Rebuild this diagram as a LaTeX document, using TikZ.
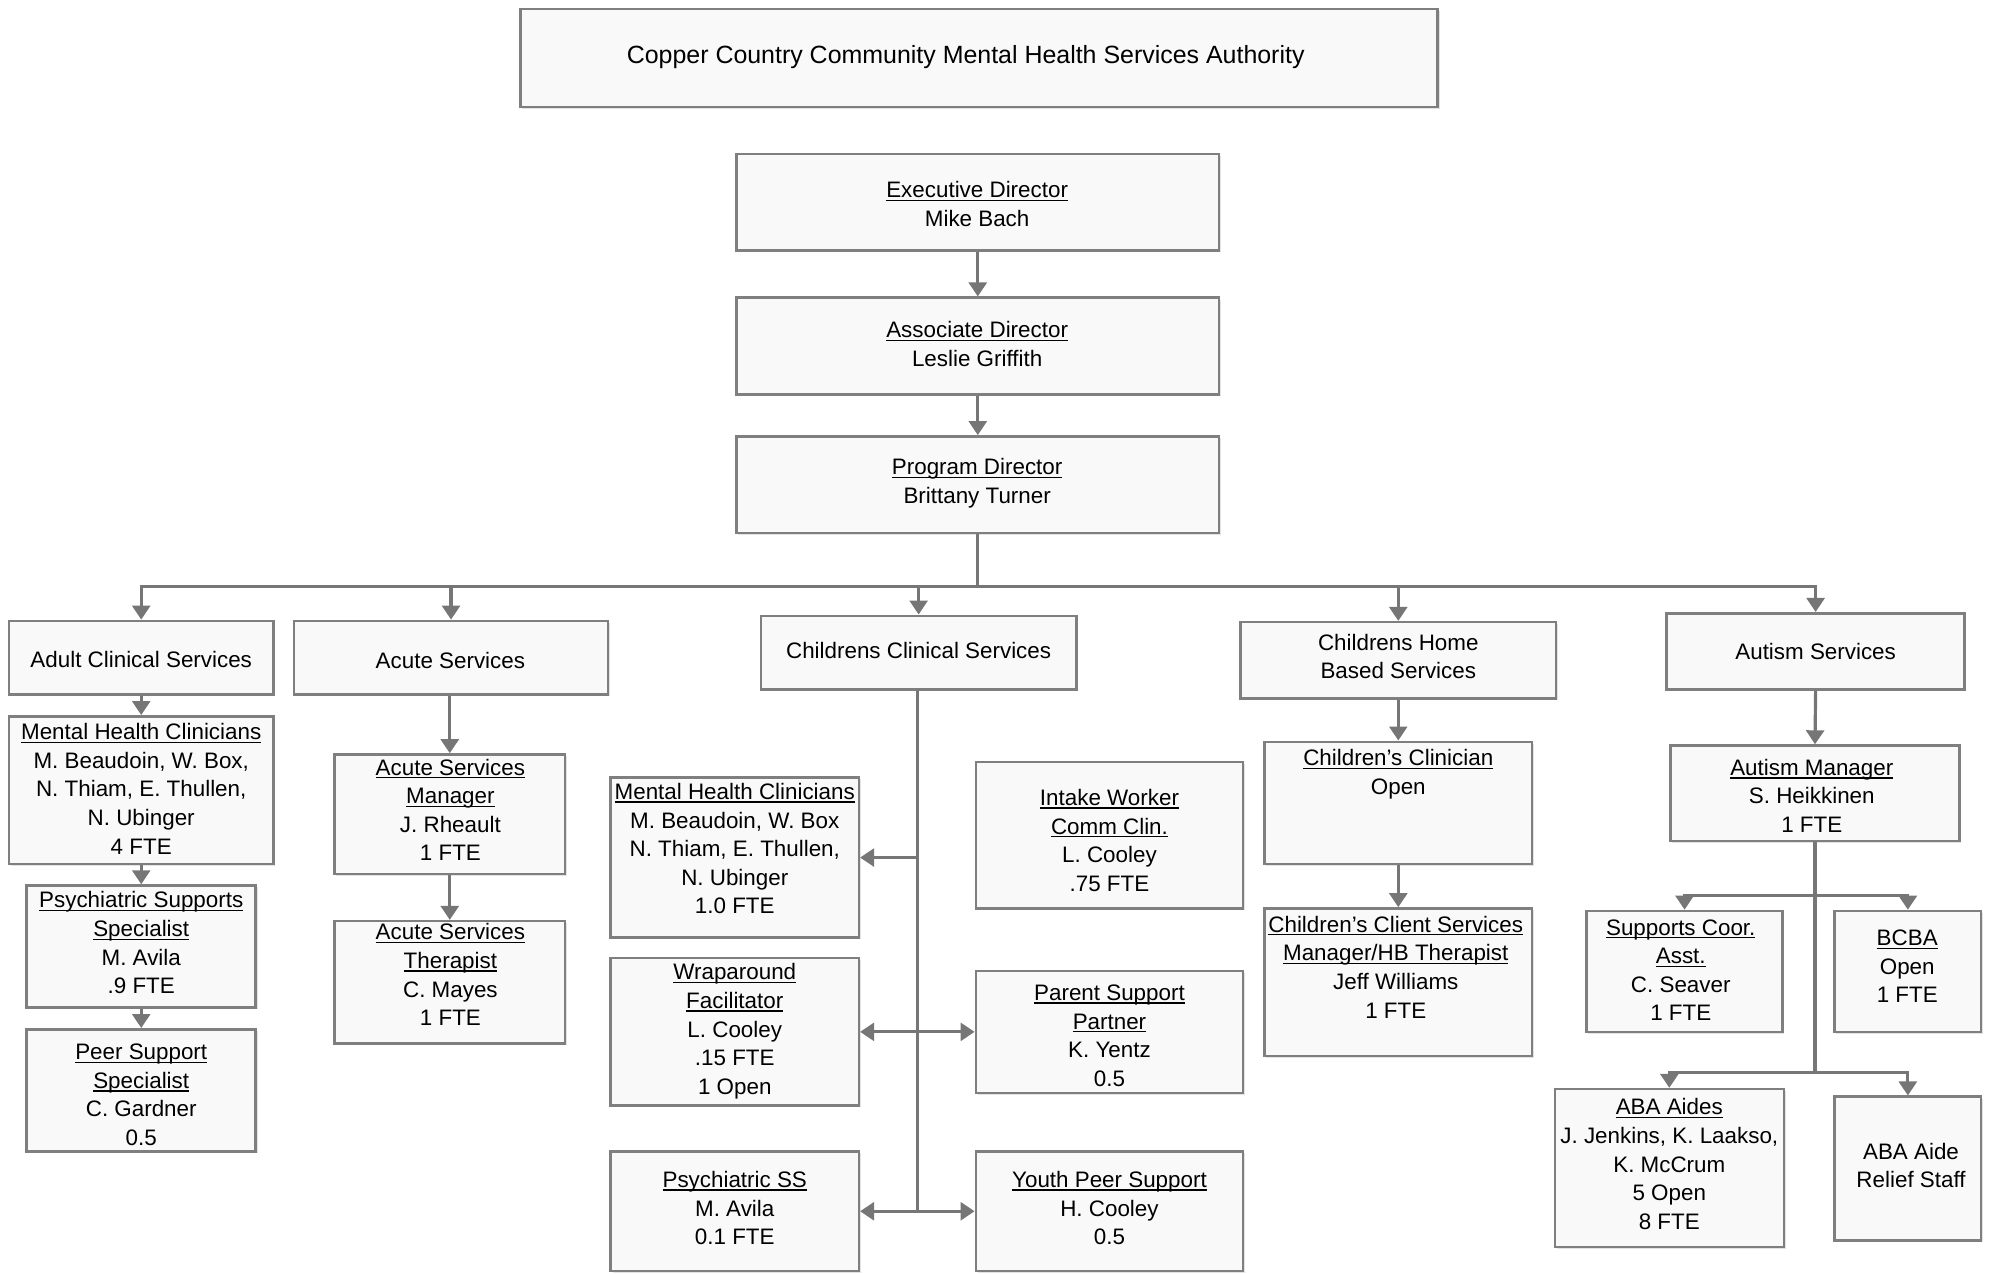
\documentclass[tikz,border=0pt]{standalone}
\usepackage{fontspec}
\setmainfont{Liberation Sans}
\usetikzlibrary{arrows.meta,fit,shadows}
\definecolor{boxline}{HTML}{7F7F7F}
\definecolor{boxfill}{HTML}{F9F9F9}
\definecolor{conn}{HTML}{767676}
\newcommand{\ul}[1]{\setbox0\hbox{#1}\rlap{\rule[-1.3pt]{\wd0}{0.5pt}}\box0}
\newcommand{\orgbox}[5]{\node[orgframe, fit={(#2,#3)(#4,#5)}] (#1) {};}
\begin{document}
\begin{tikzpicture}[x=0.5pt,y=-0.5pt,
  orgframe/.style={draw=boxline, line width=1pt, fill=boxfill, inner sep=0pt, rectangle,
     drop shadow={shadow xshift=0.7pt, shadow yshift=-0.7pt, fill=black!18, opacity=0.6}},
  txt/.style={align=center, inner sep=0pt, font=\fontsize{8.8}{11.25}\selectfont},
  conline/.style={draw=conn, line width=1.25pt},
  arr/.style={conline, -{Triangle[length=5.5pt,width=7pt]}}]
\useasboundingbox (0,0) rectangle (1568,1001);

% boxes
\orgbox{title}{409}{7}{1130}{84}
\orgbox{ed}{579}{121}{958}{197}
\orgbox{ad}{579}{234}{958}{310}
\orgbox{pd}{579}{343}{958}{419}

\orgbox{adult}{7}{488}{215}{546}
\orgbox{acute}{231}{488}{478}{546}
\orgbox{ccs}{598}{484}{846}{542}
\orgbox{chb}{975}{489}{1223}{549}
\orgbox{auts}{1310}{482}{1544}{542}

\orgbox{mhca}{7}{563}{215}{679}
\orgbox{pss}{21}{696}{201}{792}
\orgbox{peer}{21}{809}{201}{905}

\orgbox{asm}{263}{593}{444}{687}
\orgbox{ast}{263}{724}{444}{820}

\orgbox{mhcc}{480}{611}{675}{737}
\orgbox{wrap}{480}{753}{675}{869}
\orgbox{psyss}{480}{905}{675}{999}
\orgbox{intake}{767}{599}{977}{714}
\orgbox{parent}{767}{763}{977}{859}
\orgbox{youth}{767}{905}{977}{999}

\orgbox{cc}{994}{583}{1204}{679}
\orgbox{ccsm}{994}{714}{1204}{830}

\orgbox{am}{1313}{586}{1540}{661}
\orgbox{supp}{1247}{716}{1401}{811}
\orgbox{bcba}{1442}{716}{1557}{811}
\orgbox{aba}{1222}{856}{1402}{980}
\orgbox{relief}{1442}{862}{1557}{975}

% texts
\node[txt, font=\fontsize{9.8}{12}\selectfont] (title-t) at (759,45) {Copper Country Community Mental Health Services Authority};
\node[txt] (ed-t) at (768,160.5) {\ul{Executive Director}\\Mike Bach};
\node[txt] (ad-t) at (768,270.5) {\ul{Associate Director}\\Leslie Griffith};
\node[txt] (pd-t) at (768,380) {\ul{Program Director}\\Brittany Turner};

\node[txt] (adult-t) at (111,518) {Adult Clinical Services};
\node[txt] (acute-t) at (354,519) {Acute Services};
\node[txt] (ccs-t) at (722,511) {Childrens Clinical Services};
\node[txt] (chb-t) at (1099,516) {Childrens Home\\Based Services};
\node[txt] (auts-t) at (1427,512) {Autism Services};

\node[txt] (mhca-t) at (111,620) {\ul{Mental Health Clinicians}\\M. Beaudoin, W. Box,\\N. Thiam, E. Thullen,\\N. Ubinger\\4 FTE};
\node[txt] (pss-t) at (111,741) {\ul{Psychiatric Supports}\\\ul{Specialist}\\M. Avila\\.9 FTE};
\node[txt] (peer-t) at (111,860.5) {\ul{Peer Support}\\\ul{Specialist}\\C. Gardner\\0.5};

\node[txt] (asm-t) at (354,636.5) {\ul{Acute Services}\\\ul{Manager}\\J. Rheault\\1 FTE};
\node[txt] (ast-t) at (354,766) {\ul{Acute Services}\\\ul{Therapist}\\C. Mayes\\1 FTE};

\node[txt] (mhcc-t) at (577.5,667) {\ul{Mental Health Clinicians}\\M. Beaudoin, W. Box\\N. Thiam, E. Thullen,\\N. Ubinger\\1.0 FTE};
\node[txt] (wrap-t) at (577.5,810.5) {\ul{Wraparound}\\\ul{Facilitator}\\L. Cooley\\.15 FTE\\1 Open};
\node[txt] (psyss-t) at (577.5,949.5) {\ul{Psychiatric SS}\\M. Avila\\0.1 FTE};
\node[txt] (intake-t) at (872,660.5) {\ul{Intake Worker}\\\ul{Comm Clin.}\\L. Cooley\\.75 FTE};
\node[txt] (parent-t) at (872,814) {\ul{Parent Support}\\\ul{Partner}\\K. Yentz\\0.5};
\node[txt] (youth-t) at (872,949.5) {\ul{Youth Peer Support}\\H. Cooley\\0.5};

\node[txt] (cc-t) at (1099,608.5) {\ul{Children’s Clinician}\\Open};
\node[txt] (ccsm-t) at (1097,760) {\ul{Children’s Client Services}\\\ul{Manager/HB Therapist}\\Jeff Williams\\1 FTE};

\node[txt] (am-t) at (1424,625.5) {\ul{Autism Manager}\\S. Heikkinen\\1 FTE};
\node[txt] (supp-t) at (1321,762.5) {\ul{Supports Coor.}\\\ul{Asst.}\\C. Seaver\\1 FTE};
\node[txt] (bcba-t) at (1499,759.5) {\ul{BCBA}\\Open\\1 FTE};
\node[txt] (aba-t) at (1312,915) {\ul{ABA Aides}\\J. Jenkins, K. Laakso,\\K. McCrum\\5 Open\\8 FTE};
\node[txt] (relief-t) at (1502,916) {ABA Aide\\Relief Staff};

% connectors: top chain
\draw[arr] (ed.south) -- (ad.north);
\draw[arr] (ad.south) -- (pd.north);

% bus
\coordinate (busL) at (111,461);
\coordinate (busR) at (1427,461);
\draw[arr] (pd.south) -- (pd.south |- busL) -- (busL) -- (adult.north);
\draw[arr] (pd.south |- busR) -- (busR) -- (auts.north);
\draw[arr] (acute.north |- busL) -- (acute.north);
\draw[arr] (ccs.north |- busL) -- (ccs.north);
\draw[arr] (chb.north |- busL) -- (chb.north);

% adult column
\draw[arr] (adult.south) -- (mhca.north);
\draw[arr] (mhca.south) -- (pss.north);
\draw[arr] (pss.south) -- (peer.north);

% acute column
\draw[arr] (asm.north |- acute.south) -- (asm.north);
\draw[arr] (asm.south) -- (ast.north);

% childrens clinical
\coordinate (ccsb) at (721,542);
\draw[conline] (ccsb) -- (ccsb |- psyss.east);
\draw[arr] (ccsb |- mhcc.east) -- (mhcc.east);
\draw[arr] (ccsb |- wrap.east) -- (wrap.east);
\draw[arr] (ccsb |- wrap.east) -- (parent.west);
\draw[arr] (ccsb |- psyss.east) -- (psyss.east);
\draw[arr] (ccsb |- psyss.east) -- (youth.west);

% childrens home
\draw[arr] (chb.south) -- (cc.north);
\draw[arr] (cc.south) -- (ccsm.north);

% autism
\draw[arr] (auts.south) -- (am.north);
\coordinate (upL) at (1324,704);
\coordinate (upR) at (1499.5,704);
\coordinate (loL) at (1312,843);
\coordinate (loR) at (1499.5,843);
\draw[conline] (am.south) -- (am.south |- loL);
\draw[arr] (am.south |- upL) -- (upL) -- (supp.north);
\draw[arr] (am.south |- upR) -- (upR) -- (bcba.north);
\draw[arr] (am.south |- loL) -- (loL) -- (aba.north);
\draw[arr] (am.south |- loR) -- (loR) -- (relief.north);
\end{tikzpicture}
\end{document}
